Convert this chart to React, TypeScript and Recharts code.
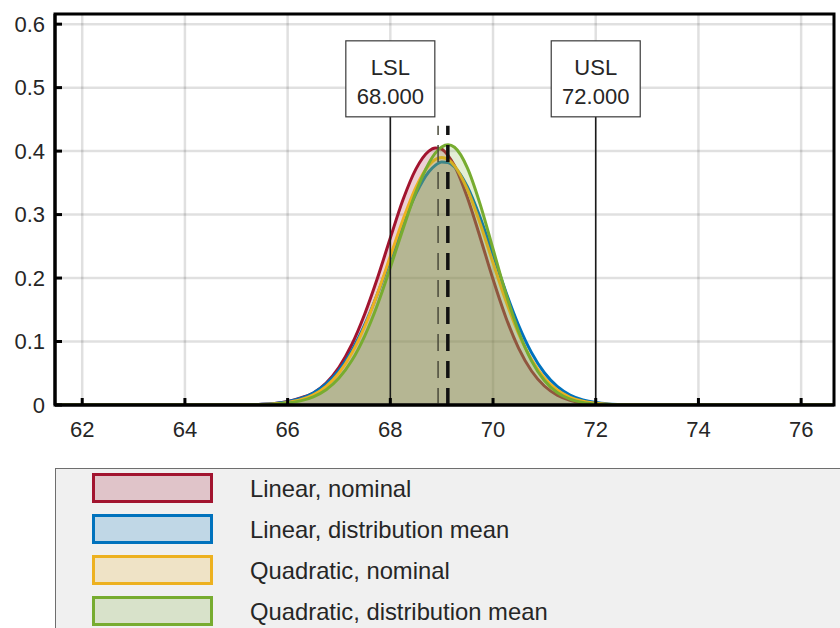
import React from 'react';
import { ComposedChart, Area, XAxis, YAxis, CartesianGrid, ReferenceLine, ReferenceArea } from 'recharts';

const xs = [61.47, 64, 65, 65.25, 65.5, 65.75, 66, 66.25, 66.5, 66.75, 67, 67.25, 67.5, 67.75, 68, 68.25, 68.5, 68.75, 68.875, 69, 69.125, 69.25, 69.5, 69.75, 70, 70.25, 70.5, 70.75, 71, 71.25, 71.5, 71.75, 72, 72.25, 72.5, 72.75, 73, 74, 76.64];

const linearNominal = [0, 0, 0.0002, 0.0005, 0.001, 0.0025, 0.0055, 0.011, 0.019, 0.0347, 0.0595, 0.0953, 0.143, 0.2, 0.263, 0.324, 0.372, 0.4, 0.405, 0.403, 0.393, 0.377, 0.327, 0.264, 0.198, 0.138, 0.0893, 0.0536, 0.0299, 0.0155, 0.0075, 0.0033, 0.0015, 0.0006, 0.0003, 0.0001, 0, 0, 0];
const linearMean = [0, 0, 0.0001, 0.0004, 0.001, 0.0025, 0.0052, 0.0102, 0.019, 0.0332, 0.0549, 0.0856, 0.1261, 0.1753, 0.2301, 0.2849, 0.333, 0.3674, 0.3776, 0.3829, 0.3819, 0.375, 0.344, 0.2952, 0.2371, 0.1782, 0.1253, 0.0825, 0.0508, 0.0293, 0.0158, 0.008, 0.0038, 0.0017, 0.0007, 0.0003, 0.0001, 0, 0];
const quadNominal = [0, 0, 0.0001, 0.0003, 0.0007, 0.0018, 0.004, 0.0082, 0.0161, 0.0295, 0.0507, 0.0817, 0.1237, 0.1757, 0.2342, 0.2927, 0.3433, 0.3778, 0.3869, 0.39, 0.3866, 0.3767, 0.3396, 0.2856, 0.2241, 0.1641, 0.1121, 0.0715, 0.0425, 0.0236, 0.0122, 0.0059, 0.0027, 0.0011, 0.0005, 0.0002, 0.0001, 0, 0];
const quadMean = [0, 0, 0, 0.0002, 0.0005, 0.0013, 0.0031, 0.0065, 0.0129, 0.0241, 0.0424, 0.07, 0.1087, 0.158, 0.2166, 0.278, 0.336, 0.381, 0.3969, 0.4065, 0.41, 0.406, 0.3737, 0.3161, 0.2458, 0.1756, 0.1153, 0.0695, 0.0385, 0.0196, 0.0092, 0.004, 0.0016, 0.0006, 0.0002, 0.0001, 0, 0, 0];

const seriesNames = ['Linear, nominal', 'Linear, distribution mean', 'Quadratic, nominal', 'Quadratic, distribution mean'];
const seriesKeys = ['linNom', 'linMean', 'quadNom', 'quadMean'];
const seriesColors = ['#A2142F', '#0072BD', '#EDB120', '#77AC30'];
const seriesFills = ['rgba(162,20,47,0.2)', 'rgba(0,114,189,0.2)', 'rgba(237,177,32,0.2)', 'rgba(119,172,48,0.2)'];

const xTicks = [62, 64, 66, 68, 70, 72, 74, 76];
const yTicks = [0, 0.1, 0.2, 0.3, 0.4, 0.5, 0.6];
const yTickLabels = ['0', '0.1', '0.2', '0.3', '0.4', '0.5', '0.6'];
const xDomain = [61.47, 76.64];
const yDomain = [0, 0.616];

const specLimits = [
  { name: 'LSL', value: 68, label: '68.000' },
  { name: 'USL', value: 72, label: '72.000' },
];
const specTop = 0.454;
const meanLines = [
  { x: 68.93, top: 0.44, width: 1.5, color: '#4a4a3a' },
  { x: 69.12, top: 0.44, width: 3.5, color: '#111' },
];

const data = xs.map((x, i) => ({
  x,
  linNom: linearNominal[i],
  linMean: linearMean[i],
  quadNom: quadNominal[i],
  quadMean: quadMean[i],
}));

const FONT = '"Liberation Sans", Arial, Helvetica, sans-serif';
const TICK_FONT = 22;
const TICK_LEN = 7;

const BottomTick = (p: any) => (
  <g>
    <line x1={p.x} y1={p.y} x2={p.x} y2={p.y - TICK_LEN} stroke="#000" strokeWidth={3} />
    <text x={p.x} y={p.y + 24} textAnchor="middle" dominantBaseline="central" fontSize={TICK_FONT} fontFamily={FONT} fill="#262626">{p.payload.value}</text>
  </g>
);
const TopTick = (p: any) => (
  <line x1={p.x} y1={p.y} x2={p.x} y2={p.y + TICK_LEN} stroke="#000" strokeWidth={3} />
);
const LeftTick = (p: any) => {
  const idx = yTicks.indexOf(p.payload.value);
  return (
    <g>
      <line x1={p.x} y1={p.y} x2={p.x + TICK_LEN} y2={p.y} stroke="#000" strokeWidth={3} />
      <text x={p.x - 10} y={p.y} textAnchor="end" dominantBaseline="central" fontSize={TICK_FONT} fontFamily={FONT} fill="#262626">{idx >= 0 ? yTickLabels[idx] : p.payload.value}</text>
    </g>
  );
};
const RightTick = (p: any) => (
  <line x1={p.x} y1={p.y} x2={p.x - TICK_LEN} y2={p.y} stroke="#000" strokeWidth={3} />
);

const SpecBox = (props: any, title: string, value: string) => {
  const vb = props.viewBox || {};
  const cx = vb.x;
  const top = vb.y;
  const w = 89;
  const h = 76;
  return (
    <g>
      <rect x={cx - w / 2} y={top - h} width={w} height={h} fill="#fff" stroke="#3a3a3a" strokeWidth={1.2} />
      <text x={cx} y={top - h + 27} textAnchor="middle" dominantBaseline="central" fontSize={22} fontFamily={FONT} fill="#262626">{title}</text>
      <text x={cx} y={top - h + 56} textAnchor="middle" dominantBaseline="central" fontSize={22} fontFamily={FONT} fill="#262626">{value}</text>
    </g>
  );
};

export default function App() {
  return (
    <div style={{ position: 'absolute', left: 0, top: 0, width: 840, height: 628, overflow: 'hidden', background: '#fff', fontFamily: FONT }}>
      <ComposedChart width={840} height={441} data={data} margin={{ top: 14, right: 6, bottom: 6, left: 10 }}>
        <XAxis
          dataKey="x"
          type="number"
          domain={xDomain}
          ticks={xTicks}
          allowDataOverflow
          height={30}
          tickSize={0}
          tickMargin={0}
          tick={BottomTick}
          tickLine={false}
          axisLine={{ stroke: '#000', strokeWidth: 3 }}
        />
        <XAxis
          xAxisId="top"
          orientation="top"
          dataKey="x"
          type="number"
          domain={xDomain}
          ticks={xTicks}
          allowDataOverflow
          height={0}
          tickSize={0}
          tickMargin={0}
          tick={TopTick}
          tickLine={false}
          axisLine={{ stroke: '#000', strokeWidth: 3 }}
        />
        <YAxis
          type="number"
          domain={yDomain}
          ticks={yTicks}
          allowDataOverflow
          width={45}
          tickSize={0}
          tickMargin={0}
          tick={LeftTick}
          tickLine={false}
          axisLine={{ stroke: '#000', strokeWidth: 3 }}
        />
        <YAxis
          yAxisId="right"
          orientation="right"
          type="number"
          domain={yDomain}
          ticks={yTicks}
          allowDataOverflow
          width={0}
          tickSize={0}
          tickMargin={0}
          tick={RightTick}
          tickLine={false}
          axisLine={{ stroke: '#000', strokeWidth: 3 }}
        />
        {seriesKeys.map((k, i) => (
          <Area
            key={k}
            type="monotone"
            dataKey={k}
            name={seriesNames[i]}
            stroke={seriesColors[i]}
            strokeWidth={3}
            fill={seriesFills[i]}
            fillOpacity={1}
            isAnimationActive={false}
            dot={false}
            activeDot={false}
          />
        ))}
        <CartesianGrid stroke="rgba(0,0,0,0.12)" strokeWidth={2.5} />
        {specLimits.map((s) => (
          <ReferenceLine
            key={s.name}
            segment={[{ x: s.value, y: 0 }, { x: s.value, y: specTop }]}
            stroke="#1a1a1a"
            strokeWidth={1.5}
            label={(p: any) => SpecBox(p, s.name, s.label)}
          />
        ))}
        {meanLines.map((m, i) => (
          <ReferenceLine
            key={i}
            segment={[{ x: m.x, y: 0 }, { x: m.x, y: m.top }]}
            stroke={m.color}
            strokeWidth={m.width}
            strokeDasharray="17 10"
          />
        ))}
        <ReferenceArea x1={xDomain[0]} x2={xDomain[1]} y1={yDomain[0]} y2={yDomain[1]} fill="none" fillOpacity={0} stroke="#000" strokeWidth={3} strokeOpacity={1} />
      </ComposedChart>
      <div style={{ position: 'absolute', left: 55, top: 468, width: 820, height: 200, background: '#f0f0f0', border: '1px solid #6e6e6e', boxSizing: 'border-box' }}>
        {seriesNames.map((n, i) => (
          <div key={n} style={{ position: 'absolute', left: 0, top: 4 + i * 41, height: 30, width: 700 }}>
            <div style={{ position: 'absolute', left: 36, top: 0, width: 121, height: 30, boxSizing: 'border-box', border: `3px solid ${seriesColors[i]}`, background: seriesFills[i] }} />
            <div style={{ position: 'absolute', left: 194, top: 1, height: 30, lineHeight: '30px', fontSize: 23.8, color: '#262626', fontFamily: FONT, whiteSpace: 'nowrap' }}>{n}</div>
          </div>
        ))}
      </div>
    </div>
  );
}
